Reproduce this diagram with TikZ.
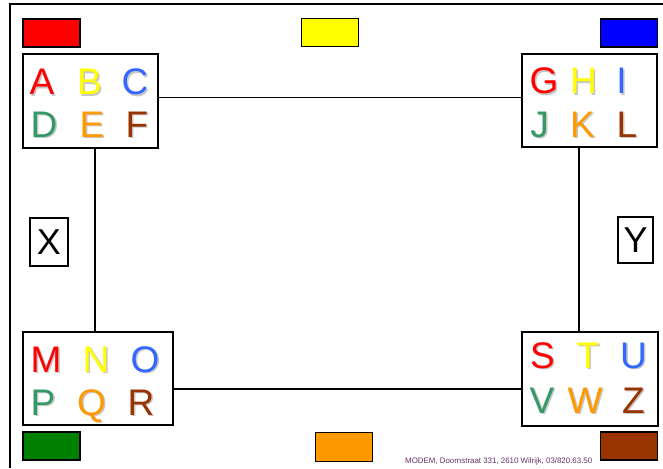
\documentclass[tikz,border=0pt]{standalone}
\usepackage{fontspec}
\setmainfont{Liberation Sans}
\definecolor{cR}{HTML}{FF0000}
\definecolor{cY}{HTML}{FFFF00}
\definecolor{cB}{HTML}{3366FF}
\definecolor{cG}{HTML}{339966}
\definecolor{cO}{HTML}{FF9900}
\definecolor{cBr}{HTML}{993300}
\definecolor{fB}{HTML}{0000FF}
\definecolor{fG}{HTML}{008000}
\definecolor{foot}{HTML}{663366}
\tikzset{
  groupbox/.style={draw, line width=1.7pt, inner sep=0pt, fill=white},
  swatch/.style={draw, line width=1.7pt, inner sep=0pt, minimum width=57pt, minimum height=28pt},
  labelbox/.style={draw, line width=1.5pt, inner sep=0pt, font=\fontsize{36}{36}\selectfont},
  wire/.style={line width=1.7pt},
  frameline/.style={line width=2pt},
  letterstyle/.style={font=\fontsize{37}{37}\selectfont, inner sep=0pt, anchor=base},
}
\newcommand\ltr[5]{%
  \node[letterstyle] (#1) at (#2,#3) {\rlap{\hspace{1.5pt}\raisebox{-1.5pt}{\textcolor{black!22}{#5}}}\textcolor{#4}{#5}};
}
\begin{document}
\begin{tikzpicture}[x=1pt,y=-1pt]
\useasboundingbox (0,0) rectangle (663,468);
\fill[white] (0,0) rectangle (663,468);
% frame
\coordinate (f1) at (10,468);
\coordinate (f2) at (10,4);
\coordinate (f3) at (663,4);
\draw[frameline] (f1) -- (f2) -- (f3);
% group boxes
\node[groupbox, minimum width=135pt, minimum height=94pt] (tl) at (90.5,101) {};
\node[groupbox, minimum width=135pt, minimum height=93pt] (tr) at (589.5,100.5) {};
\node[groupbox, minimum width=150pt, minimum height=93pt] (bl) at (98,378.5) {};
\node[groupbox, minimum width=136pt, minimum height=94pt] (br) at (590,379) {};
% connectors
\coordinate (vl) at (95,0);
\coordinate (vr) at (579,0);
\coordinate (ht) at (0,97.5);
\coordinate (hb) at (0,389);
\draw[wire] (tl.east |- ht) -- (tr.west |- ht);
\draw[wire] (tl.south -| vl) -- (bl.north -| vl);
\draw[wire] (tr.south -| vr) -- (br.north -| vr);
\draw[wire] (bl.east |- hb) -- (br.west |- hb);
% swatches
\node[swatch, fill=cR] (sR) at (51.5,33) {};
\node[swatch, fill=cY] (sY) at (330,32.5) {};
\node[swatch, fill=fB] (sB) at (629,33) {};
\node[swatch, fill=fG] (sG) at (51.5,446) {};
\node[swatch, fill=cO, minimum height=29pt] (sO) at (344,447) {};
\node[swatch, fill=cBr] (sBr) at (629,446) {};
% X / Y
\node[labelbox, minimum width=38pt, minimum height=48pt] (X) at (49,242) {X};
\node[labelbox, minimum width=35pt, minimum height=46pt] (Y) at (635.5,240) {Y};
% letters top-left
\ltr{lA}{42}{95}{cR}{A}
\ltr{lB}{89.5}{95}{cY}{B}
\ltr{lC}{135}{95}{cB}{C}
\ltr{lD}{44}{137}{cG}{D}
\ltr{lE}{92}{137}{cO}{E}
\ltr{lF}{137}{137}{cBr}{F}
% top-right
\ltr{lG}{544}{94}{cR}{G}
\ltr{lH}{583.5}{94}{cY}{H}
\ltr{lI}{621.5}{94}{cB}{I}
\ltr{lJ}{539.5}{137}{cG}{J}
\ltr{lK}{582.5}{137}{cO}{K}
\ltr{lL}{627}{137}{cBr}{L}
% bottom-left
\ltr{lM}{46}{372}{cR}{M}
\ltr{lN}{96}{372}{cY}{N}
\ltr{lO}{145}{372}{cB}{O}
\ltr{lP}{43}{415}{cG}{P}
\ltr{lQ}{91.5}{415}{cO}{Q}
\ltr{lR}{141}{415}{cBr}{R}
% bottom-right
\ltr{lS}{542.5}{368}{cR}{S}
\ltr{lT}{588}{368}{cY}{T}
\ltr{lU}{633.5}{368}{cB}{U}
\ltr{lV}{542}{413}{cG}{V}
\ltr{lW}{585}{413}{cO}{W}
\ltr{lZ}{633.5}{413}{cBr}{Z}
% footer
\node[anchor=base west, inner sep=0pt, text=foot, font=\fontsize{7.9}{8}\selectfont] (foot) at (405,463.5) {MODEM, Doornstraat 331, 2610 Wilrijk, 03/820.63.50};
\end{tikzpicture}
\end{document}
